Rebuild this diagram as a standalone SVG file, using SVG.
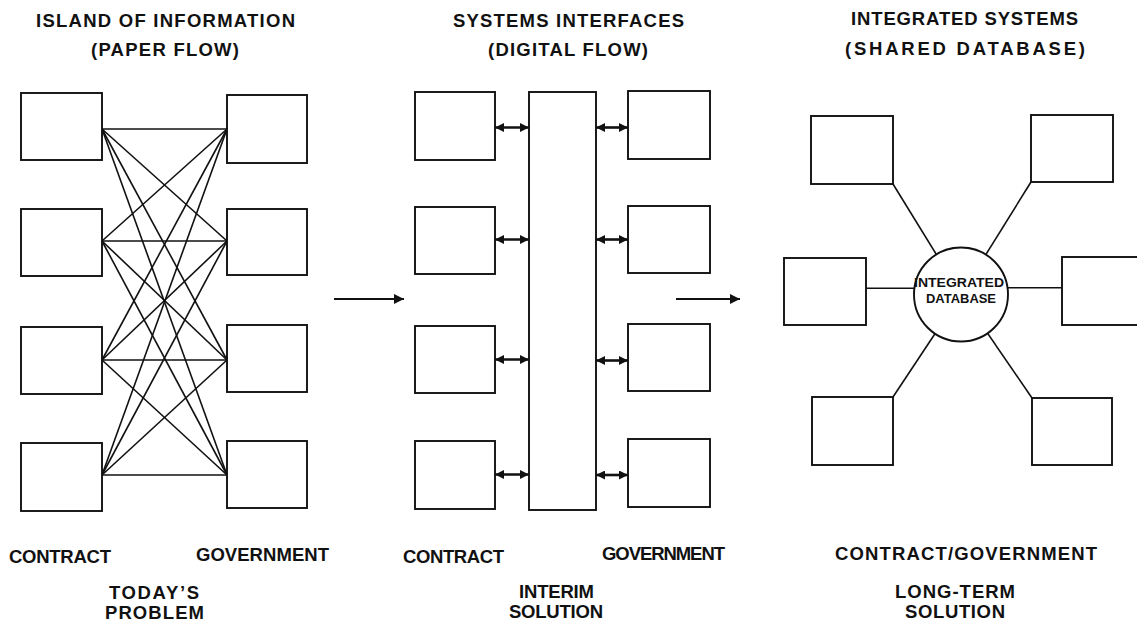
<svg xmlns="http://www.w3.org/2000/svg" width="1137" height="634" viewBox="0 0 1137 634">
<style>
.box{fill:#fff;stroke:#111;stroke-width:1.9}
.ln{stroke:#111;stroke-width:1.6;fill:none}
.dbl{stroke:#111;stroke-width:2.6;fill:none;marker-start:url(#ah);marker-end:url(#ah)}
.arr{stroke:#111;stroke-width:1.8;fill:none;marker-end:url(#ah2)}
text{font-family:"Liberation Sans",Arial,Helvetica,sans-serif;font-weight:bold;fill:#111;font-size:18.5px}
.db{font-size:13.5px}
</style>
<defs>
<marker id="ah" viewBox="0 0 10 10" refX="10" refY="5" markerUnits="userSpaceOnUse" markerWidth="11" markerHeight="9" orient="auto-start-reverse"><path d="M0,0 L10,5 L0,10 z" fill="#111"/></marker>
<marker id="ah2" viewBox="0 0 10 10" refX="10" refY="5" markerUnits="userSpaceOnUse" markerWidth="11" markerHeight="10" orient="auto"><path d="M0,0 L10,5 L0,10 z" fill="#111"/></marker>
</defs>
<rect width="1137" height="634" fill="#fff"/>

<g id="titles">
<text x="36" y="27" textLength="259" lengthAdjust="spacing">ISLAND OF INFORMATION</text>
<text x="91" y="56" textLength="148" lengthAdjust="spacing">(PAPER FLOW)</text>
<text x="453" y="27" textLength="231" lengthAdjust="spacing">SYSTEMS INTERFACES</text>
<text x="488" y="56" textLength="160" lengthAdjust="spacing">(DIGITAL FLOW)</text>
<text x="851" y="25" textLength="227" lengthAdjust="spacing">INTEGRATED SYSTEMS</text>
<text x="845" y="55" textLength="240" lengthAdjust="spacing">(SHARED DATABASE)</text>
</g>

<g id="connectors">
<g id="mesh">
<line class="ln" x1="102" y1="129" x2="227" y2="129"/>
<line class="ln" x1="102" y1="129" x2="227" y2="241"/>
<line class="ln" x1="102" y1="129" x2="227" y2="360"/>
<line class="ln" x1="102" y1="129" x2="227" y2="475"/>
<line class="ln" x1="102" y1="241" x2="227" y2="129"/>
<line class="ln" x1="102" y1="241" x2="227" y2="241"/>
<line class="ln" x1="102" y1="241" x2="227" y2="360"/>
<line class="ln" x1="102" y1="241" x2="227" y2="475"/>
<line class="ln" x1="102" y1="360" x2="227" y2="129"/>
<line class="ln" x1="102" y1="360" x2="227" y2="241"/>
<line class="ln" x1="102" y1="360" x2="227" y2="360"/>
<line class="ln" x1="102" y1="360" x2="227" y2="475"/>
<line class="ln" x1="102" y1="475" x2="227" y2="129"/>
<line class="ln" x1="102" y1="475" x2="227" y2="241"/>
<line class="ln" x1="102" y1="475" x2="227" y2="360"/>
<line class="ln" x1="102" y1="475" x2="227" y2="475"/>
</g>
<line class="arr" x1="334" y1="299" x2="404" y2="299"/>
<line class="arr" x1="676" y1="299" x2="740" y2="299"/>
<line class="dbl" x1="495" y1="127.5" x2="529" y2="127.5"/>
<line class="dbl" x1="495" y1="239.5" x2="529" y2="239.5"/>
<line class="dbl" x1="495" y1="359.5" x2="529" y2="359.5"/>
<line class="dbl" x1="495" y1="474.5" x2="529" y2="474.5"/>
<line class="dbl" x1="596" y1="127.5" x2="628" y2="127.5"/>
<line class="dbl" x1="596" y1="239.5" x2="628" y2="239.5"/>
<line class="dbl" x1="596" y1="360.5" x2="628" y2="360.5"/>
<line class="dbl" x1="596" y1="475" x2="628" y2="475"/>
<line class="ln" x1="893" y1="184" x2="961" y2="294.5"/>
<line class="ln" x1="1031" y1="182" x2="961" y2="294.5"/>
<line class="ln" x1="866" y1="288.3" x2="915" y2="288.3"/>
<line class="ln" x1="1007" y1="287.7" x2="1062" y2="287.7"/>
<line class="ln" x1="893" y1="397" x2="961" y2="294.5"/>
<line class="ln" x1="1032" y1="398" x2="961" y2="294.5"/>
</g>

<g id="p1-contract-1"><rect class="box" x="21" y="93" width="81" height="67"/></g>
<g id="p1-contract-2"><rect class="box" x="21" y="209" width="81" height="67"/></g>
<g id="p1-contract-3"><rect class="box" x="21" y="327" width="81" height="67"/></g>
<g id="p1-contract-4"><rect class="box" x="21" y="443" width="81" height="68"/></g>
<g id="p1-gov-1"><rect class="box" x="227" y="95" width="80" height="68"/></g>
<g id="p1-gov-2"><rect class="box" x="227" y="209" width="80" height="66"/></g>
<g id="p1-gov-3"><rect class="box" x="227" y="325" width="80" height="67"/></g>
<g id="p1-gov-4"><rect class="box" x="227" y="441" width="80" height="67"/></g>

<g id="p2-contract-1"><rect class="box" x="415" y="92" width="80" height="68"/></g>
<g id="p2-contract-2"><rect class="box" x="415" y="207" width="80" height="67"/></g>
<g id="p2-contract-3"><rect class="box" x="415" y="326" width="80" height="67"/></g>
<g id="p2-contract-4"><rect class="box" x="415" y="441" width="80" height="68"/></g>
<g id="p2-bus"><rect class="box" x="529" y="92" width="67" height="418"/></g>
<g id="p2-gov-1"><rect class="box" x="628" y="91" width="82" height="68"/></g>
<g id="p2-gov-2"><rect class="box" x="628" y="206" width="82" height="67"/></g>
<g id="p2-gov-3"><rect class="box" x="628" y="324" width="82" height="67"/></g>
<g id="p2-gov-4"><rect class="box" x="628" y="439" width="82" height="68"/></g>

<g id="p3-tl"><rect class="box" x="811" y="116" width="82" height="68"/></g>
<g id="p3-tr"><rect class="box" x="1031" y="115" width="82" height="67"/></g>
<g id="p3-ml"><rect class="box" x="784" y="258" width="82" height="67"/></g>
<g id="p3-mr"><rect class="box" x="1062" y="257" width="90" height="68"/></g>
<g id="p3-bl"><rect class="box" x="812" y="397" width="81" height="68"/></g>
<g id="p3-br"><rect class="box" x="1032" y="398" width="80" height="67"/></g>
<g id="p3-database">
<circle class="box" cx="961" cy="294.5" r="47"/>
<text class="db" x="914" y="287" textLength="90" lengthAdjust="spacingAndGlyphs">INTEGRATED</text>
<text class="db" x="926" y="303" textLength="70" lengthAdjust="spacingAndGlyphs">DATABASE</text>
</g>

<g id="labels">
<text x="9" y="562.5" textLength="102" lengthAdjust="spacing">CONTRACT</text>
<text x="196" y="561" textLength="133" lengthAdjust="spacing">GOVERNMENT</text>
<text x="109" y="599" textLength="90" lengthAdjust="spacing">TODAY’S</text>
<text x="105" y="619" textLength="99" lengthAdjust="spacing">PROBLEM</text>
<text x="403" y="562.5" textLength="101" lengthAdjust="spacing">CONTRACT</text>
<text x="602" y="560" textLength="123" lengthAdjust="spacing">GOVERNMENT</text>
<text x="519" y="598" textLength="75" lengthAdjust="spacing">INTERIM</text>
<text x="509" y="618" textLength="94" lengthAdjust="spacing">SOLUTION</text>
<text x="835" y="560" textLength="262" lengthAdjust="spacing">CONTRACT/GOVERNMENT</text>
<text x="895" y="598" textLength="120" lengthAdjust="spacing">LONG-TERM</text>
<text x="905" y="618" textLength="100" lengthAdjust="spacing">SOLUTION</text>
</g>
</svg>
